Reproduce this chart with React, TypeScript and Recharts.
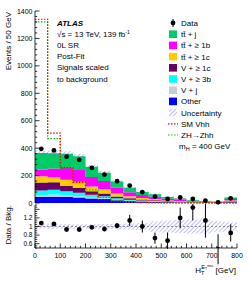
import React from "react";
import {
  ComposedChart,
  Area,
  Line,
  Scatter,
  ErrorBar,
  XAxis,
  YAxis,
  ReferenceLine,
} from "recharts";

// bin edges (GeV), 50 GeV wide
const EDGES = [0, 50, 100, 150, 200, 250, 300, 350, 400, 450, 500, 550, 600, 650, 700, 750, 800];
const CENTERS = [25, 75, 125, 175, 225, 275, 325, 375, 425, 475, 525, 575, 625, 675, 725, 775];

const DATA = [395, 383, 338, 315, 256, 207, 159, 127, 80, 47, 29, 40, 29, 17, 5, 34];
const RATIO = [1.08, 1.06, 0.93, 0.93, 0.98, 0.94, 1.02, 1.14, 1.0, 0.73, 0.67, 1.2, 1.44, 1.14, 0.47, 0.85];
const RATIO_ERR = [0.03, 0.03, 0.03, 0.03, 0.04, 0.05, 0.06, 0.13, 0.14, 0.13, 0.19, 0.24, 0.3, 0.4, 0.35, 0.2];

// backgrounds, bottom of stack last
const TT_J = [120, 110, 105, 100, 75, 60, 45, 32, 22, 18, 12, 9, 6, 4, 3, 11];
const TT_1B = [50, 65, 85, 85, 70, 60, 42, 30, 22, 17, 12, 9, 5, 4, 3, 10];
const TT_1C = [45, 35, 45, 45, 35, 30, 22, 15, 11, 9, 6, 5, 3, 2, 2, 6];
const V_1C = [58, 55, 40, 35, 25, 20, 14, 10, 7, 6, 4, 3, 2, 1, 1, 4];
const V_3B = [33, 35, 27, 25, 20, 15, 10, 7, 5, 4, 3, 2, 1, 1, 0.5, 3];
const V_J = [16, 17, 13, 10, 7, 6, 4, 3, 2, 2, 1, 1, 1, 1, 0.5, 1];
const OTHER = [43, 45, 45, 40, 33, 29, 20, 14, 11, 8, 5, 4, 2, 2, 1, 5];
const UNC = [0.05, 0.05, 0.05, 0.05, 0.05, 0.06, 0.06, 0.07, 0.08, 0.12, 0.14, 0.15, 0.16, 0.16, 0.12, 0.1];

const SM_VHH = [1340, 510, 258, 150, 65, 25, 12, 6, 3, 2, 1, 1, 0.5, 0.5, 0.2, 0.5];
const ZH_ZHH = [1320, 470, 248, 155, 95, 40, 20, 10, 5, 3, 2, 1, 1, 0.5, 0.3, 1];

const Y_MAJOR = [0, 200, 400, 600, 800, 1000, 1200, 1400];
const R_MAJOR = [0.6, 0.8, 1, 1.2, 1.4];
const R_LABELS = [0.6, 0.8, 1, 1.2];
const X_MAJOR = [0, 100, 200, 300, 400, 500, 600, 700, 800];

const X_TICKS: number[] = [];
for (let v = 0; v <= 800; v += 20) X_TICKS.push(v);
const Y_TICKS: number[] = [];
for (let v = 0; v <= 1400; v += 40) Y_TICKS.push(v);
const R_TICKS: number[] = [];
for (let v = 0.5; v <= 1.501; v += 0.05) R_TICKS.push(Number(v.toFixed(2)));

const FONT = '"Liberation Sans", Arial, Helvetica, sans-serif';

const rows = EDGES.map((x, i) => {
  const j = Math.min(i, 15);
  const total = TT_J[j] + TT_1B[j] + TT_1C[j] + V_1C[j] + V_3B[j] + V_J[j] + OTHER[j];
  return {
    x,
    ttj: TT_J[j],
    tt1b: TT_1B[j],
    tt1c: TT_1C[j],
    v1c: V_1C[j],
    v3b: V_3B[j],
    vj: V_J[j],
    other: OTHER[j],
    band: [total * (1 - UNC[j]), total * (1 + UNC[j])],
    rband: [1 - UNC[j], 1 + UNC[j]],
    sm: SM_VHH[j],
    zh: ZH_ZHH[j],
  };
});

const dataPts = CENTERS.map((x, i) => ({ x, y: DATA[i] }));
const ratioPts = CENTERS.map((x, i) => ({ x, y: RATIO[i], err: RATIO_ERR[i] }));

type Side = "left" | "right" | "top" | "bottom";
const near = (list: number[], v: number) => list.some((m) => Math.abs(m - v) < 1e-6);

function tickFn(side: Side, majors: number[], labels: number[] | null, fs: number) {
  return (props: any) => {
    const { x, y, payload } = props;
    const v = payload.value as number;
    const len = near(majors, v) ? 4.5 : 2.2;
    let x2 = x;
    let y2 = y;
    if (side === "left") x2 = x + len;
    if (side === "right") x2 = x - len;
    if (side === "bottom") y2 = y - len;
    if (side === "top") y2 = y + len;
    const lab = labels && near(labels, v);
    return (
      <g>
        <line x1={x} y1={y} x2={x2} y2={y2} stroke="#000" strokeWidth={0.8} />
        {lab && side === "left" && (
          <text x={x - 2.5} y={y + fs * 0.36} textAnchor="end" fontSize={fs} fontFamily={FONT} fill="#000">
            {String(v)}
          </text>
        )}
        {lab && side === "bottom" && (
          <text x={x} y={y + 10} textAnchor="middle" fontSize={fs} fontFamily={FONT} fill="#000">
            {String(v)}
          </text>
        )}
      </g>
    );
  };
}

const dot = (p: any) => <circle cx={p.cx} cy={p.cy} r={2.4} fill="#000" />;

const axisLine = { stroke: "#000", strokeWidth: 0.8 };

function Hatch({ id }: { id: string }) {
  return (
    <defs>
      <pattern id={id} width="3" height="3" patternUnits="userSpaceOnUse" patternTransform="rotate(45)">
        <line x1="0" y1="0" x2="0" y2="3" stroke="#6f6fff" strokeWidth="0.9" />
      </pattern>
    </defs>
  );
}

const LEGEND = [
  { label: "Data", kind: "data", color: "#000" },
  { label: "tt\u0304 + j", kind: "box", color: "#00cc66" },
  { label: "tt\u0304 + \u2265 1b", kind: "box", color: "#ff00ff" },
  { label: "tt\u0304 + \u2265 1c", kind: "box", color: "#ffcc00" },
  { label: "V + \u2265 1c", kind: "box", color: "#660066" },
  { label: "V + \u2265 3b", kind: "box", color: "#00ffff" },
  { label: "V + j", kind: "box", color: "#cccccc" },
  { label: "Other", kind: "box", color: "#0000ff" },
  { label: "Uncertainty", kind: "hatch", color: "" },
  { label: "SM Vhh", kind: "line", color: "#ff0000" },
  { label: "ZH\u2192Zhh", kind: "line", color: "#00cc00" },
];

const INFO = ["0L SR", "Post-Fit", "Signals scaled", "to background"];

export default function App() {
  return (
    <div style={{ position: "absolute", left: 0, top: 0, width: 249, height: 281, background: "#fff" }}>
      <div style={{ position: "absolute", left: 0, top: 0 }}>
        <ComposedChart width={249} height={212} data={rows} margin={{ top: 11, right: 12, bottom: 9, left: 0 }}>
          <Hatch id="hatchMain" />
          <XAxis
            dataKey="x"
            type="number"
            domain={[0, 800]}
            ticks={X_TICKS}
            interval={0}
            height={0}
            tickSize={0}
            tickMargin={0}
            tickLine={false}
            axisLine={axisLine}
            tick={tickFn("bottom", X_MAJOR, null, 7)}
          />
          <XAxis
            xAxisId="t"
            orientation="top"
            type="number"
            domain={[0, 800]}
            ticks={X_TICKS}
            interval={0}
            height={0}
            tickSize={0}
            tickMargin={0}
            tickLine={false}
            axisLine={axisLine}
            tick={tickFn("top", X_MAJOR, null, 7)}
          />
          <YAxis
            type="number"
            domain={[0, 1400]}
            ticks={Y_TICKS}
            interval={0}
            width={35}
            tickSize={0}
            tickMargin={0}
            tickLine={false}
            axisLine={axisLine}
            tick={tickFn("left", Y_MAJOR, Y_MAJOR, 7)}
          />
          <YAxis
            yAxisId="r"
            orientation="right"
            type="number"
            domain={[0, 1400]}
            ticks={Y_TICKS}
            interval={0}
            width={0}
            tickSize={0}
            tickMargin={0}
            tickLine={false}
            axisLine={axisLine}
            tick={tickFn("right", Y_MAJOR, null, 7)}
          />
          <Area dataKey="other" stackId="s" type="stepAfter" fill="#0000ff" fillOpacity={1} stroke="none" isAnimationActive={false} />
          <Area dataKey="vj" stackId="s" type="stepAfter" fill="#cccccc" fillOpacity={1} stroke="none" isAnimationActive={false} />
          <Area dataKey="v3b" stackId="s" type="stepAfter" fill="#00ffff" fillOpacity={1} stroke="none" isAnimationActive={false} />
          <Area dataKey="v1c" stackId="s" type="stepAfter" fill="#660066" fillOpacity={1} stroke="none" isAnimationActive={false} />
          <Area dataKey="tt1c" stackId="s" type="stepAfter" fill="#ffcc00" fillOpacity={1} stroke="none" isAnimationActive={false} />
          <Area dataKey="tt1b" stackId="s" type="stepAfter" fill="#ff00ff" fillOpacity={1} stroke="none" isAnimationActive={false} />
          <Area dataKey="ttj" stackId="s" type="stepAfter" fill="#00cc66" fillOpacity={1} stroke="none" isAnimationActive={false} />
          <Area dataKey="band" type="stepAfter" fill="url(#hatchMain)" fillOpacity={1} stroke="none" isAnimationActive={false} />
          <Line dataKey="zh" type="stepAfter" stroke="#00cc00" strokeWidth={1.2} strokeDasharray="1.5 1.5" dot={false} isAnimationActive={false} />
          <Line dataKey="sm" type="stepAfter" stroke="#ff0000" strokeWidth={1.2} strokeDasharray="1.5 1.5" dot={false} isAnimationActive={false} />
          <Scatter data={dataPts} dataKey="y" shape={dot} isAnimationActive={false} />
        </ComposedChart>
      </div>
      <div style={{ position: "absolute", left: 0, top: 204 }}>
        <ComposedChart width={249} height={77} data={rows} margin={{ top: 1, right: 12, bottom: 0, left: 0 }}>
          <Hatch id="hatchRatio" />
          <XAxis
            dataKey="x"
            type="number"
            domain={[0, 800]}
            ticks={X_TICKS}
            interval={0}
            height={33}
            tickSize={0}
            tickMargin={0}
            tickLine={false}
            axisLine={axisLine}
            tick={tickFn("bottom", X_MAJOR, X_MAJOR, 7)}
          />
          <XAxis
            xAxisId="t"
            orientation="top"
            type="number"
            domain={[0, 800]}
            ticks={X_TICKS}
            interval={0}
            height={0}
            tickSize={0}
            tickMargin={0}
            tickLine={false}
            axisLine={axisLine}
            tick={tickFn("top", X_MAJOR, null, 7)}
          />
          <YAxis
            type="number"
            domain={[0.5, 1.5]}
            allowDataOverflow
            ticks={R_TICKS}
            interval={0}
            width={35}
            tickSize={0}
            tickMargin={0}
            tickLine={false}
            axisLine={axisLine}
            tick={tickFn("left", R_MAJOR, R_LABELS, 6.5)}
          />
          <YAxis
            yAxisId="r"
            orientation="right"
            type="number"
            domain={[0.5, 1.5]}
            ticks={R_TICKS}
            interval={0}
            width={0}
            tickSize={0}
            tickMargin={0}
            tickLine={false}
            axisLine={axisLine}
            tick={tickFn("right", R_MAJOR, null, 6.5)}
          />
          <Area dataKey="rband" type="stepAfter" fill="url(#hatchRatio)" fillOpacity={1} stroke="none" isAnimationActive={false} />
          <ReferenceLine y={1} stroke="#777" strokeDasharray="2 2" strokeWidth={0.8} />
          <Scatter data={ratioPts} dataKey="y" shape={dot} isAnimationActive={false}>
            <ErrorBar dataKey="err" direction="y" width={0} stroke="#000" strokeWidth={1} />
          </Scatter>
        </ComposedChart>
      </div>
      <svg
        width={249}
        height={281}
        style={{ position: "absolute", left: 0, top: 0, pointerEvents: "none" }}
        fontFamily={FONT}
      >
        <defs>
          <pattern id="hatchLeg" width="3" height="3" patternUnits="userSpaceOnUse" patternTransform="rotate(45)">
            <line x1="0" y1="0" x2="0" y2="3" stroke="#6f6fff" strokeWidth="0.9" />
          </pattern>
        </defs>
        <text transform="translate(11,12) rotate(-90)" textAnchor="end" fontSize={8}>
          Events / 50 GeV
        </text>
        <text transform="translate(11,205) rotate(-90)" textAnchor="end" fontSize={8}>
          Data / Bkg.
        </text>
        <text x={236} y={273} textAnchor="end" fontSize={8}>
          H
          <tspan dy={2} fontSize={5.5}>T</tspan>
          <tspan dx={-3} dy={-6.5} fontSize={5.5}>E</tspan>
          <tspan dy={1.2} fontSize={3.5}>T</tspan>
          <tspan dy={-3} fontSize={3}>miss</tspan>
          <tspan dy={6.3} fontSize={8}> [GeV]</tspan>
        </text>
        <text x={57} y={26} fontSize={8} fontWeight="bold" fontStyle="italic">
          ATLAS
        </text>
        <text x={57} y={37} fontSize={8}>
          {"\u221as = 13 TeV, 139 fb"}
          <tspan dy={-3} fontSize={5}>-1</tspan>
        </text>
        {INFO.map((t, i) => (
          <text key={t} x={57} y={48 + i * 11.2} fontSize={8}>
            {t}
          </text>
        ))}
        {LEGEND.map((e, i) => {
          const cy = 23 + i * 11.2;
          return (
            <g key={e.label}>
              {e.kind === "data" && (
                <g>
                  <line x1={173} y1={cy - 4} x2={173} y2={cy + 4} stroke="#000" strokeWidth={1} />
                  <circle cx={173} cy={cy} r={2.4} fill="#000" />
                </g>
              )}
              {e.kind === "box" && <rect x={169} y={cy - 3.8} width={8} height={7.6} fill={e.color} />}
              {e.kind === "hatch" && <rect x={169} y={cy - 3.8} width={8} height={7.6} fill="url(#hatchLeg)" />}
              {e.kind === "line" && (
                <line x1={168} y1={cy} x2={178} y2={cy} stroke={e.color} strokeWidth={1.2} strokeDasharray="1.5 1.5" />
              )}
              <text x={181} y={cy + 3} fontSize={8}>
                {e.label}
              </text>
            </g>
          );
        })}
        <text x={179} y={149} fontSize={8}>
          m<tspan dy={1.5} fontSize={5.5}>H</tspan>
          <tspan dy={-1.5}> = 400 GeV</tspan>
        </text>
      </svg>
    </div>
  );
}
